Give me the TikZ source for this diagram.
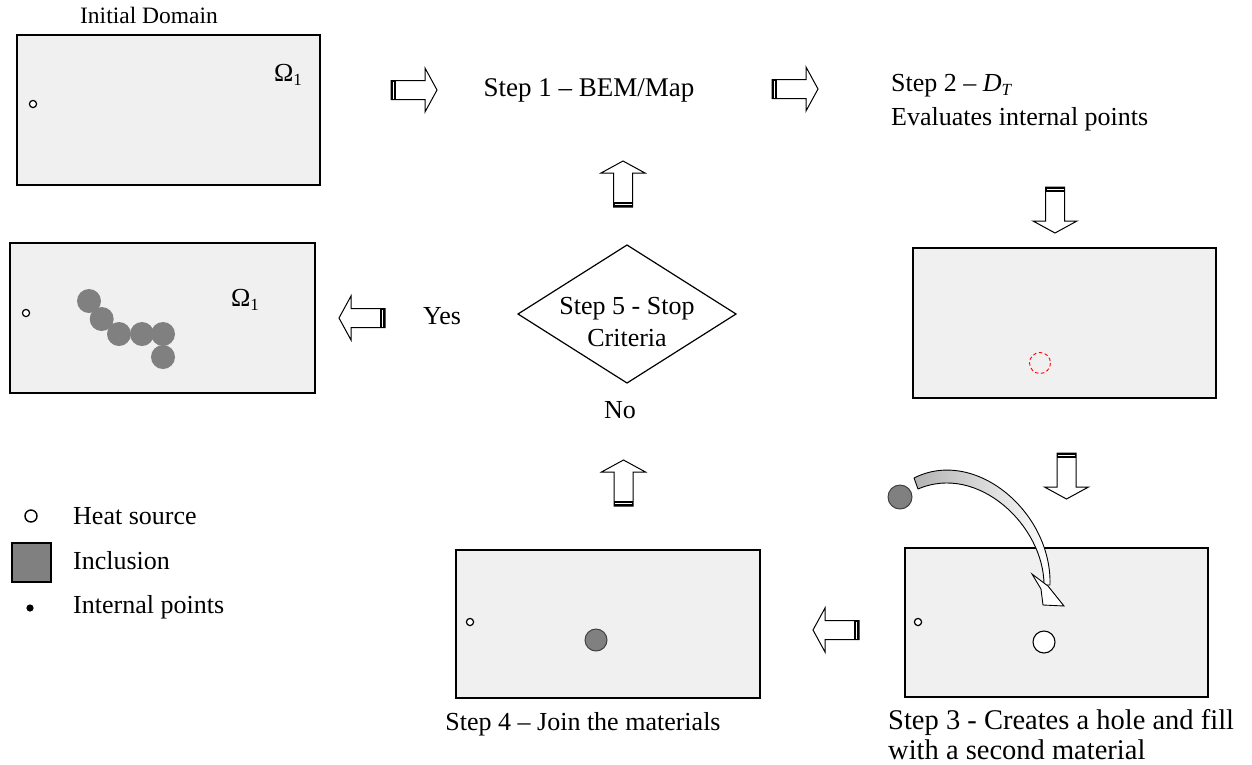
\documentclass[tikz,border=0pt]{standalone}
\usepackage{fontspec}
\setmainfont{Liberation Serif}
\usetikzlibrary{shapes.geometric}
\definecolor{boxfill}{HTML}{F0F0F0}
\definecolor{incl}{HTML}{808080}
\newcommand{\sub}[1]{\raisebox{-0.3ex}{\fontsize{17}{17}\selectfont #1}}
\tikzset{
  txt/.style={font=\fontsize{26}{29}\selectfont, inner sep=0pt},
  bigtxt/.style={font=\fontsize{28.5}{30}\selectfont, inner sep=0pt},
  domainbox/.style={draw=black, line width=1.3pt, fill=boxfill, rectangle, inner sep=0pt},
  heat/.style={draw=black, line width=1.2pt, fill=white},
  inc/.style={fill=incl},
  incb/.style={fill=incl, draw=black!75, line width=1pt},
  barrow/.pic={
    \draw[line width=1pt, fill=white, line join=miter]
      (0,-9.5) -- (34,-9.5) -- (34,-22) -- (46,0) -- (34,22) -- (34,9.5) -- (0,9.5) -- cycle;
    \fill (0,-9.5) rectangle (5,9.5);
    \draw[white, line width=0.7pt] (2.6,-8.5) -- (2.6,8.5);
  }
}
\begin{document}
\begin{tikzpicture}[x=1pt,y=-1pt]
\useasboundingbox (0,0) rectangle (1252,764);

% domains
\node[domainbox, minimum width=303pt, minimum height=150pt] (b1) at (168.5,110) {};
\node[domainbox, minimum width=305pt, minimum height=150pt] (b5) at (162.5,318) {};
\node[domainbox, minimum width=303pt, minimum height=150pt] (b2) at (1064.5,323) {};
\node[domainbox, minimum width=303pt, minimum height=149pt] (b3) at (1056.5,622.5) {};
\node[domainbox, minimum width=304pt, minimum height=148pt] (b4) at (608,624) {};

% box 1 content
\node[txt, font=\fontsize{23.5}{26}\selectfont] (t0) at (149,15) {Initial Domain};
\draw[heat] (33,104) circle (3.6);
\node[txt] (om1) at (288,75) {Ω\sub{1}};

% box 5 content
\draw[heat] (26,313) circle (3.6);
\node[txt] (om5) at (245,300) {Ω\sub{1}};
\foreach \p in {(89,301),(101.7,319),(119,334),(142,334),(163,334),(163,357)}
  \fill[inc] \p circle (12);

% box 2 content
\draw[red, line width=0.9pt, dash pattern=on 3.5pt off 2.5pt] (1040,363) circle (10.5);

% box 3 content
\draw[heat] (918,622) circle (3.6);
\draw[heat, line width=1.1pt] (1044,642) circle (11);
\fill[incb] (900,497) circle (12);

% box 4 content
\draw[heat] (470,622) circle (3.6);
\fill[incb] (596,640) circle (11);

% curved arrow
\draw[line width=0.9pt, left color=incl!60, right color=white, line join=round]
  (914,478) .. controls (975,447) and (1052,512) .. (1050,585)
  -- (1044,585) .. controls (1044,526) and (978,463) .. (918,489) -- cycle;
\draw[fill=white, line width=0.9pt, line join=miter]
  (1032,574) -- (1048,586) -- (1064,606) -- (1043,605) -- (1041,589) -- cycle;

% block arrows
\pic at (391,90) {barrow};
\pic at (772,89) {barrow};
\pic[rotate=-90] at (1055,187) {barrow};
\pic[rotate=-90] at (1066.5,453) {barrow};
\pic[rotate=180] at (859,630) {barrow};
\pic[rotate=90] at (623.5,506) {barrow};
\pic[rotate=90] at (623,207) {barrow};
\pic[rotate=180] at (385,318) {barrow};

% texts
\node[txt, font=\fontsize{27}{29}\selectfont] (s1) at (589,90) {Step 1 – BEM/Map};
\node[txt, anchor=west] (s2a) at (891,86) {Step 2 – \textit{D}\sub{\textit{T}}};
\node[txt, anchor=west] (s2b) at (891,119) {Evaluates internal points};
\node[bigtxt, anchor=west] (s3a) at (888,722) {Step 3 - Creates a hole and fill};
\node[bigtxt, anchor=west] (s3b) at (888,750) {with a second material};
\node[txt] (s4) at (583,724) {Step 4 – Join the materials};
\node[txt] (yes) at (442,316) {Yes};
\node[txt] (no) at (620,410) {No};

% diamond
\draw[line width=1.2pt, fill=white] (518,314) -- (627,245) -- (736,314) -- (627,383) -- cycle;
\node[txt] (s5a) at (627,309) {Step 5 - Stop};
\node[txt] (s5b) at (627,338) {Criteria};

% legend
\draw[heat, line width=1.4pt] (31,516) circle (6);
\node[txt, anchor=west] (l1) at (73,516) {Heat source};
\draw[fill=incl, draw=black, line width=1.3pt] (12,543) rectangle (51,582);
\node[txt, anchor=west] (l2) at (73,561) {Inclusion};
\fill (30,608) circle (3.6);
\node[txt, anchor=west] (l3) at (73,607) {Internal points};
\end{tikzpicture}
\end{document}
